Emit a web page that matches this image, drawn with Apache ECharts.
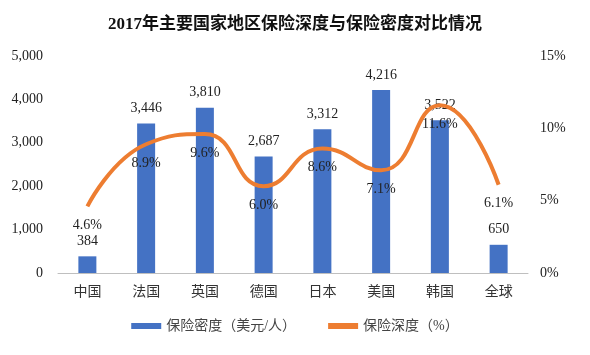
<!DOCTYPE html>
<html><head><meta charset="utf-8">
<script src="https://cdn.jsdelivr.net/npm/echarts@6/dist/echarts.min.js"></script>
<style>html,body{margin:0;padding:0;background:#fff}#c{width:590px;height:355px}</style>
</head><body><div id="c"></div>
<script>
var categories = ['中国','法国','英国','德国','日本','美国','韩国','全球'];
var density = [384, 3446, 3810, 2687, 3312, 4216, 3522, 650];
var depth = [4.6, 8.9, 9.6, 6.0, 8.6, 7.1, 11.6, 6.1];
var serif = '"Liberation Serif","Times New Roman",serif';
var cjk = '"Liberation Serif","Noto Sans CJK SC",serif';
var chart = echarts.init(document.getElementById('c'));
chart.setOption({
  animation: false,
  title: {text: '2017年主要国家地区保险深度与保险密度对比情况', left: 'center', top: 11,
    textStyle: {fontFamily: cjk, fontSize: 17, fontWeight: 'bold', color: '#111'}},
  legend: {bottom: 17, left: 'center', itemGap: 32, itemWidth: 30, itemHeight: 6,
    textStyle: {fontFamily: cjk, fontSize: 14, color: '#444'},
    data: [{name: '保险密度（美元/人）', icon: 'rect'}, {name: '保险深度（%）', icon: 'rect'}]},
  grid: {left: 58, right: 62, top: 56, bottom: 82},
  xAxis: {type: 'category', data: categories,
    axisLine: {lineStyle: {color: '#bfbfbf'}}, axisTick: {show: false},
    axisLabel: {fontFamily: cjk, fontSize: 14, color: '#333', margin: 12}},
  yAxis: [
    {type: 'value', min: 0, max: 5000, interval: 1000, splitLine: {show: false},
     axisLabel: {fontFamily: serif, fontSize: 14, color: '#222', margin: 15,
       formatter: function(v){return v.toLocaleString('en-US');}}},
    {type: 'value', min: 0, max: 15, interval: 5, splitLine: {show: false},
     axisLabel: {fontFamily: serif, fontSize: 14, color: '#222', margin: 12, formatter: '{value}%'}}
  ],
  series: [
    {name: '保险密度（美元/人）', type: 'bar', data: density, barWidth: 18,
     itemStyle: {color: '#4472C4'},
     label: {show: true, position: 'top', distance: 8, fontFamily: serif, fontSize: 14, color: '#222',
       formatter: function(p){return p.value.toLocaleString('en-US');}}},
    {name: '保险深度（%）', type: 'line', yAxisIndex: 1, data: depth, smooth: 0.5,
     symbol: 'circle', symbolSize: 0.01, showSymbol: true,
     lineStyle: {color: '#ED7D31', width: 4}, itemStyle: {color: '#ED7D31'},
     label: {show: true, position: 'bottom', distance: 12, fontFamily: serif, fontSize: 14, color: '#222',
       formatter: function(p){return p.value.toFixed(1) + '%';}}}
  ]
});
</script></body></html>
